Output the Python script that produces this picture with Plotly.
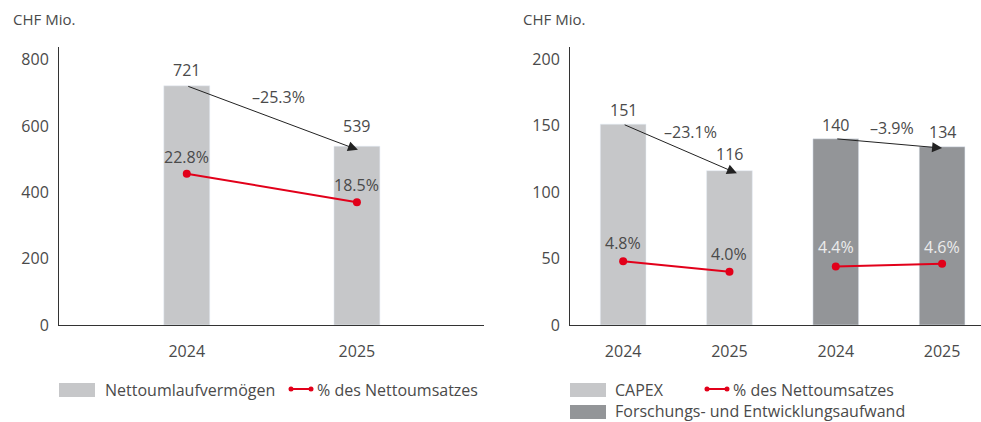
import plotly.graph_objects as go

# data
years_left = ["2024", "2025"]
nwc = [721, 539]
nwc_pct = [22.8, 18.5]
nwc_change = "–25.3%"

years_right = ["2024", "2025", "2024", "2025"]
capex = [151, 116]
capex_pct = [4.8, 4.0]
capex_change = "–23.1%"
rnd = [140, 134]
rnd_pct = [4.4, 4.6]
rnd_change = "–3.9%"

W, H = 981, 422
# the snapshot comes out slightly squashed vertically, so draw a bit taller
HFIG = 433
LIGHT = "#c6c7c9"
DARK = "#939598"
RED = "#e2001a"
TXT = "#4a4a4a"
FONT = "Open Sans"
FS = 16


def px(x):
    return x / W


def py(y):
    return 1 - y / H


fig = go.Figure()

xl = list(range(len(years_left)))
xr = list(range(len(years_right)))

# left panel
fig.add_trace(go.Bar(x=xl, y=nwc, marker_color=LIGHT, width=0.27,
                     xaxis="x", yaxis="y", showlegend=False))
fig.add_trace(go.Scatter(x=xl, y=nwc_pct, mode="lines+markers",
                         line=dict(color=RED, width=2), marker=dict(size=8, color=RED),
                         xaxis="x", yaxis="y3", showlegend=False))

# right panel
fig.add_trace(go.Bar(x=xr[:2], y=capex, marker_color=LIGHT, width=0.43,
                     xaxis="x2", yaxis="y2", showlegend=False))
fig.add_trace(go.Bar(x=xr[2:], y=rnd, marker_color=DARK, width=0.43,
                     xaxis="x2", yaxis="y2", showlegend=False))
fig.add_trace(go.Scatter(x=xr[:2], y=capex_pct, mode="lines+markers",
                         line=dict(color=RED, width=2), marker=dict(size=8, color=RED),
                         xaxis="x2", yaxis="y4", showlegend=False))
fig.add_trace(go.Scatter(x=xr[2:], y=rnd_pct, mode="lines+markers",
                         line=dict(color=RED, width=2), marker=dict(size=8, color=RED),
                         xaxis="x2", yaxis="y4", showlegend=False))

ydom = [py(325), py(47)]
axfont = dict(family=FONT, size=FS, color=TXT)

fig.update_layout(
    width=W, height=HFIG,
    margin=dict(l=0, r=0, t=0, b=0),
    plot_bgcolor="white", paper_bgcolor="white",
    font=axfont,
    barmode="overlay",
    xaxis=dict(domain=[px(59), px(484)], range=[-0.751, 1.747],
               tickvals=xl, ticktext=years_left, showline=True, linecolor="#333",
               linewidth=1, showgrid=False, zeroline=False, ticks="", ticklabelstandoff=12,
               tickfont=axfont),
    yaxis=dict(domain=ydom, range=[0, 838], tickvals=[0, 200, 400, 600, 800],
               showline=True, linecolor="#333", linewidth=1, showgrid=False,
               zeroline=False, ticks="", ticklabelstandoff=6, tickfont=axfont),
    yaxis3=dict(overlaying="y", range=[0, 41.9], visible=False),
    xaxis2=dict(domain=[px(570), 1.0], range=[-0.5, 3.366], anchor="y2",
                tickvals=xr, ticktext=years_right, showline=True, linecolor="#333",
                linewidth=1, showgrid=False, zeroline=False, ticks="", ticklabelstandoff=12,
                tickfont=axfont),
    yaxis2=dict(domain=ydom, range=[0, 209], anchor="x2", tickvals=[0, 50, 100, 150, 200],
                showline=True, linecolor="#333", linewidth=1, showgrid=False,
                zeroline=False, ticks="", ticklabelstandoff=6, tickfont=axfont),
    yaxis4=dict(overlaying="y2", range=[0, 20.9], visible=False, anchor="x2"),
)

ann = []


def label(text, x, y, xref, yref, shift, color=TXT):
    ann.append(dict(text=text, x=x, y=y, xref=xref, yref=yref, yshift=shift,
                    showarrow=False, font=dict(family=FONT, size=FS, color=color),
                    yanchor="middle"))


# value labels
label(str(nwc[0]), xl[0], nwc[0], "x", "y", 16)
label(str(nwc[1]), xl[1], nwc[1], "x", "y", 20)
label(f"{nwc_pct[0]}%", xl[0], nwc_pct[0], "x", "y3", 17)
label(f"{nwc_pct[1]}%", xl[1], nwc_pct[1], "x", "y3", 17)
label(nwc_change, 0.54, 688, "x", "y", 0)

label(str(capex[0]), xr[0], capex[0], "x2", "y2", 14)
label(str(capex[1]), xr[1], capex[1], "x2", "y2", 17)
label(str(rnd[0]), xr[2], rnd[0], "x2", "y2", 14)
label(str(rnd[1]), xr[3], rnd[1], "x2", "y2", 15)
label(f"{capex_pct[0]}%", xr[0], capex_pct[0], "x2", "y4", 18)
label(f"{capex_pct[1]}%", xr[1], capex_pct[1], "x2", "y4", 18)
label(f"{rnd_pct[0]}%", xr[2], rnd_pct[0], "x2", "y4", 19, "#ececec")
label(f"{rnd_pct[1]}%", xr[3], rnd_pct[1], "x2", "y4", 17, "#ececec")
label(capex_change, 0.63, 145, "x2", "y2", 0)
label(rnd_change, 2.53, 148, "x2", "y2", 0)

# change arrows
arrow = dict(text="", showarrow=True, arrowhead=2, arrowsize=2, arrowwidth=1,
             arrowcolor="#222")
ann.append(dict(arrow, x=1.006, y=528, ax=0, ay=nwc[0], xref="x", yref="y",
                axref="x", ayref="y"))
ann.append(dict(arrow, x=1.07, y=114, ax=0, ay=capex[0], xref="x2", yref="y2",
                axref="x2", ayref="y2"))
ann.append(dict(arrow, x=3.0, y=133, ax=2, ay=rnd[0], xref="x2", yref="y2",
                axref="x2", ayref="y2"))

# unit titles
for x0 in (11, 521):
    ann.append(dict(text="CHF Mio.", x=px(x0), y=py(19), xref="paper", yref="paper",
                    xanchor="left", yanchor="middle", showarrow=False,
                    font=dict(family=FONT, size=15, color=TXT)))

# custom legend
shapes = []


def swatch(x0, y0, color):
    shapes.append(dict(type="rect", xref="paper", yref="paper", x0=px(x0), x1=px(x0 + 36),
                       y0=py(y0 + 14), y1=py(y0), fillcolor=color, line=dict(width=0)))


def redkey(x0, y):
    shapes.append(dict(type="line", xref="paper", yref="paper", x0=px(x0), x1=px(x0 + 20),
                       y0=py(y), y1=py(y), line=dict(color=RED, width=2)))
    for xx in (x0, x0 + 20):
        shapes.append(dict(type="circle", xref="paper", yref="paper",
                           x0=px(xx - 2.5), x1=px(xx + 2.5), y0=py(y + 2.5), y1=py(y - 2.5),
                           fillcolor=RED, line=dict(width=0)))


def legtext(text, x0, y):
    ann.append(dict(text=text, x=px(x0), y=py(y), xref="paper", yref="paper",
                    xanchor="left", yanchor="middle", showarrow=False,
                    font=dict(family=FONT, size=FS, color=TXT)))


swatch(59, 383, LIGHT)
legtext("Nettoumlaufvermögen", 103, 390)
redkey(291, 389)
legtext("% des Nettoumsatzes", 315, 390)

swatch(570, 383, LIGHT)
legtext("CAPEX", 613, 390)
redkey(707, 389)
legtext("% des Nettoumsatzes", 731, 390)
swatch(570, 405, DARK)
legtext("Forschungs- und Entwicklungsaufwand", 613, 411)

fig.update_layout(annotations=ann, shapes=shapes)

# drop the default 8px body margin so the figure fills the window
fig.write_html("out.html", config={"displayModeBar": False},
               post_script="document.body.style.margin='0';")
